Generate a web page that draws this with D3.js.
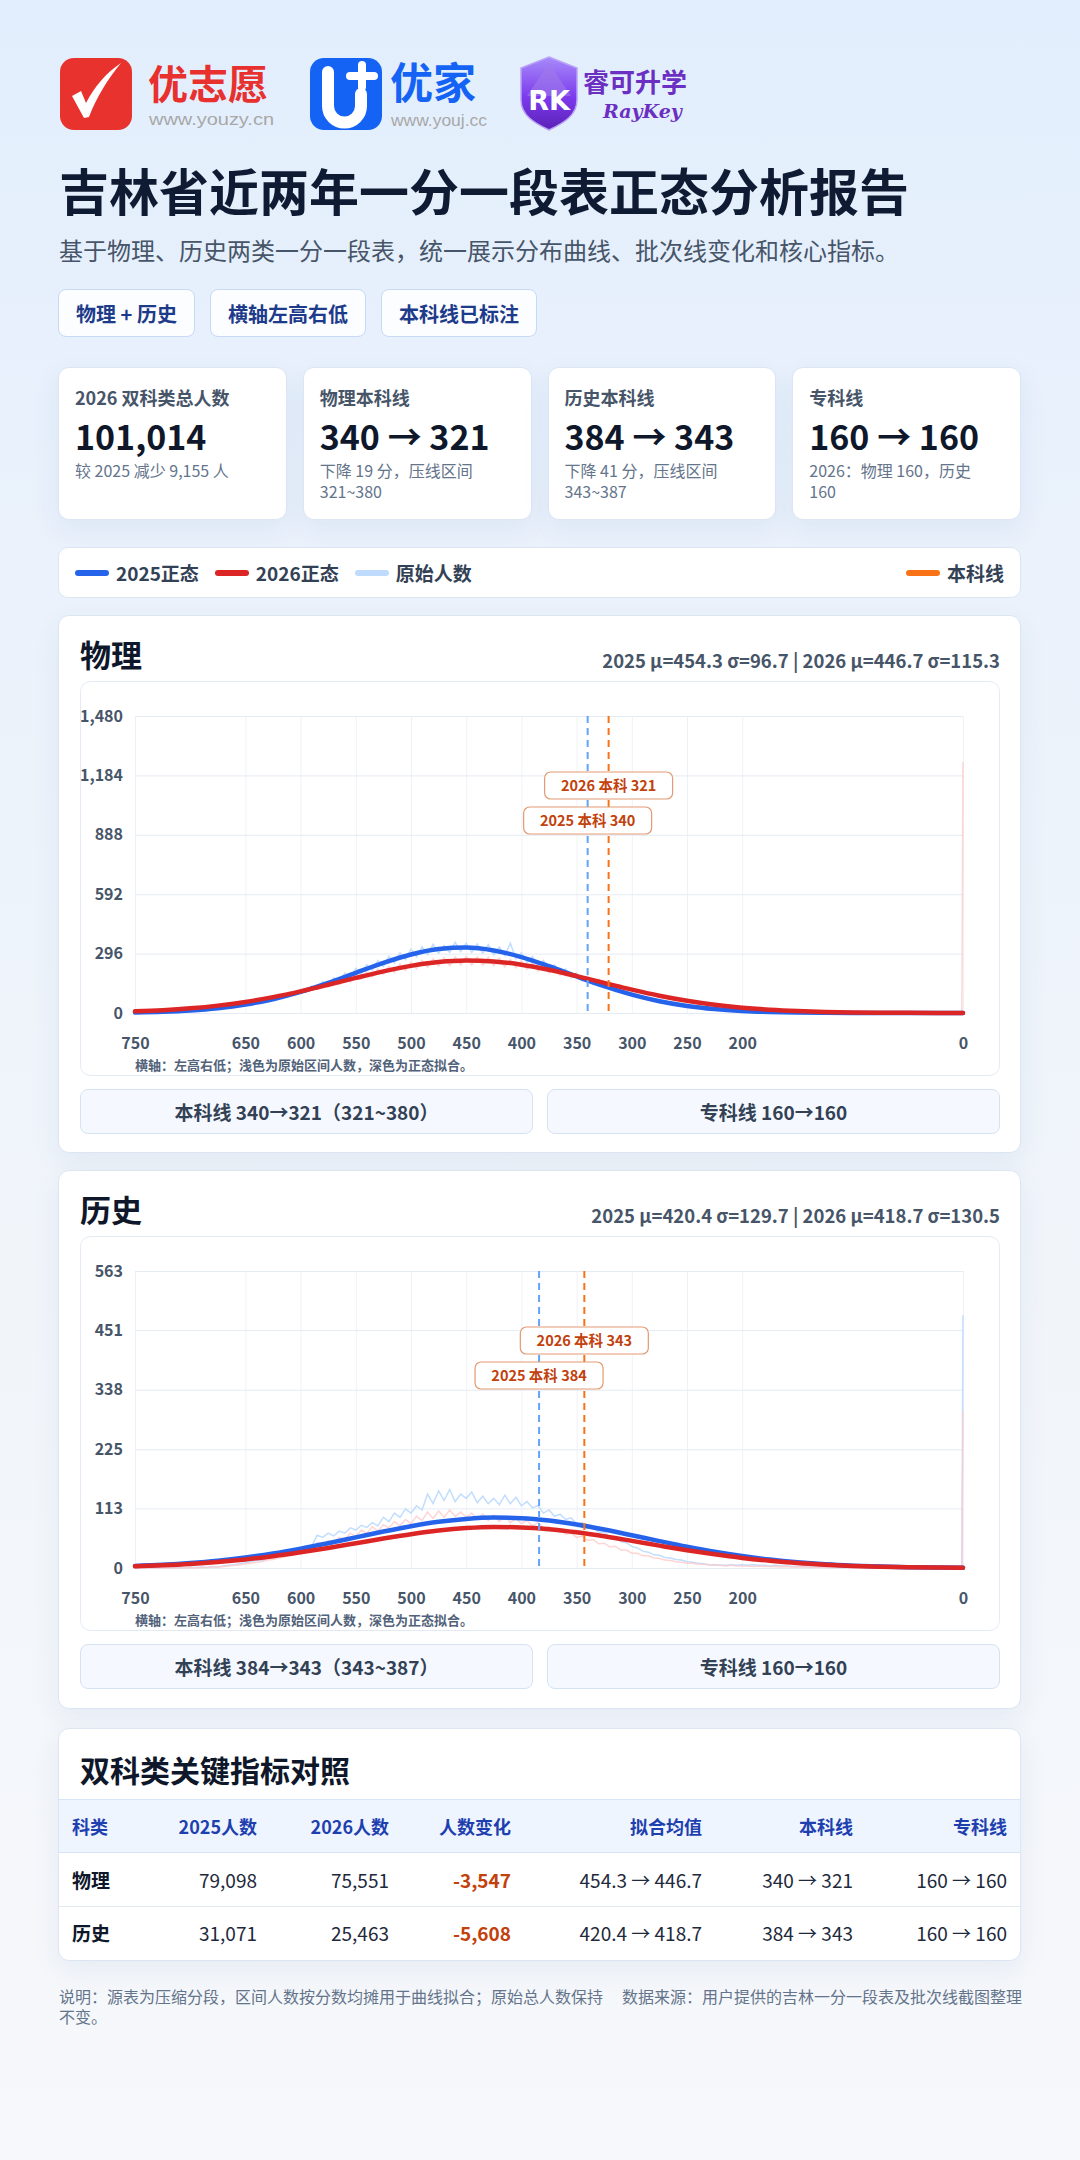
<!DOCTYPE html>
<html><head><meta charset="utf-8">
<script src="https://cdn.jsdelivr.net/npm/d3@7"></script>
<style>
*{box-sizing:border-box}
body{margin:0;width:1080px;height:2160px;overflow:hidden;font-family:"Noto Sans CJK SC","Noto Sans",sans-serif;color:#0f172a;
 background:linear-gradient(180deg,#e2eefd 0%,#ebf2fb 28%,#f1f5fa 60%,#f6f8fb 100%)}
#page{position:relative;width:1080px;height:2160px}
.abs{position:absolute}
svg text{font-family:"Noto Sans CJK SC","Noto Sans",sans-serif}
svg text.url{font-family:"Liberation Sans",Arial,sans-serif}
.title{left:59px;top:159px;font-size:50px;font-weight:700;line-height:60px;color:#0f1b33;white-space:nowrap}
.sub{left:59px;top:235px;font-size:24px;line-height:30px;color:#475569;white-space:nowrap}
.tags{left:58px;top:289px;display:flex;gap:15px}
.tag{height:48px;padding:0 17px;border:1px solid #c6daf5;border-radius:8px;background:#fbfdff;display:flex;align-items:center;font-size:20px;font-weight:700;color:#1e3a8a;white-space:nowrap}
.card{background:#fff;border:1px solid #dce6f3;border-radius:11px;box-shadow:0 10px 28px rgba(40,80,150,.07)}
.stats{left:58px;top:367px;width:963px;height:153px;display:grid;grid-template-columns:repeat(4,1fr);gap:16px}
.stat{position:relative;padding:17px 16px 0 16px}
.stat .lb{font-size:18px;font-weight:700;line-height:24px;color:#475569;white-space:nowrap}
.stat .num{font-size:34px;font-weight:700;line-height:40px;margin-top:7px;color:#0f172a;white-space:nowrap}
.stat .ds{font-size:16px;line-height:21px;margin-top:4px;color:#64748b;white-space:nowrap}
.legend{left:58px;top:547px;width:963px;height:51px;display:flex;align-items:center;padding:0 16px;box-shadow:none;border-radius:10px}
.li{display:flex;align-items:center;margin-right:16px;font-size:19px;font-weight:700;color:#334155;white-space:nowrap}
.sw{width:34px;height:6px;border-radius:3px;margin-right:7px}
.ctitle{font-size:31px;font-weight:700;line-height:36px;color:#0f172a;white-space:nowrap}
.cstats{font-size:18.5px;font-weight:700;line-height:24px;color:#475569;white-space:nowrap}
.btn{height:45px;border:1px solid #d5e2f2;border-radius:8px;background:#f5f9ff;display:flex;align-items:center;justify-content:center;font-size:19px;font-weight:700;color:#334155;white-space:nowrap}
.tcard{left:58px;top:1728px;width:963px;height:233px;overflow:hidden}
.cell{position:absolute;font-size:19px;line-height:24px;white-space:nowrap;color:#1e293b}
.foot{font-size:16px;line-height:20px;color:#64748b;white-space:nowrap}
</style></head>
<body><div id="page">

<svg class="abs" style="left:0;top:0" width="720" height="150">
 <defs>
  <linearGradient id="shg" x1="0" y1="0" x2="0" y2="1">
   <stop offset="0" stop-color="#a78bfa"/><stop offset="0.55" stop-color="#7c3aed"/><stop offset="1" stop-color="#5b21b6"/>
  </linearGradient>
 </defs>
 <rect x="60" y="58" width="72" height="72" rx="14" fill="#e8322e"/>
 <path d="M72,96 L81,91 L86,103 C95,86 106,73 121,63 C108,79 97,96 89,117 L84,118 Z" fill="#fff"/>
 <text x="148" y="99" font-size="40" font-weight="700" fill="#e8302f">优志愿</text>
 <text class="url" x="149" y="125" font-size="16" fill="#a8a8a8" textLength="125" lengthAdjust="spacingAndGlyphs">www.youzy.cn</text>
 <rect x="310" y="58" width="72" height="72" rx="14" fill="#1463f5"/>
 <path d="M328,72 V106 A16.5,16.5 0 0 0 361,106 V94" stroke="#fff" stroke-width="12" fill="none" stroke-linecap="round"/>
 <path d="M362,65 V87 M350,76 H374" stroke="#fff" stroke-width="8" stroke-linecap="round"/>
 <text x="390" y="99" font-size="43" font-weight="700" fill="#1463f5">优家</text>
 <text class="url" x="391" y="126" font-size="16" fill="#a8a8a8" textLength="96" lengthAdjust="spacingAndGlyphs">www.youj.cc</text>
 <path d="M549,57 L577,68 V100 C577,115 564,123 549,130 C534,123 521,115 521,100 V68 Z" fill="url(#shg)" stroke="#b9a3f7" stroke-width="1.5"/>
 <path d="M549,63 L571,96 H527 Z" fill="#9f7aea" opacity="0.6"/>
 <text x="549" y="110" font-size="27" font-weight="700" fill="#fff" text-anchor="middle" style="font-family:'DejaVu Sans',sans-serif">RK</text>
 <text x="583" y="92" font-size="26" font-weight="700" fill="#6b2fc2">睿可升学</text>
 <text x="603" y="117.5" font-size="19" font-weight="700" font-style="italic" fill="#6b2fc2" style="font-family:'DejaVu Serif',serif">RayKey</text>
</svg>

<div class="abs title">吉林省近两年一分一段表正态分析报告</div>
<div class="abs sub">基于物理、历史两类一分一段表，统一展示分布曲线、批次线变化和核心指标。</div>
<div class="abs tags" id="tags"></div>
<div class="abs stats" id="stats"></div>
<div class="abs card legend" id="legend"></div>
<div class="abs card" id="cardPhy" style="left:58px;top:615px;width:963px;height:538px"></div>
<div class="abs card" id="cardHis" style="left:58px;top:1170px;width:963px;height:539px"></div>
<div class="abs card tcard" id="tcard"></div>
<div class="abs foot" style="left:59px;top:1986px">说明：源表为压缩分段，区间人数按分数均摊用于曲线拟合；原始总人数保持<br>不变。</div>
<div class="abs foot" style="left:622px;top:1986px">数据来源：用户提供的吉林一分一段表及批次线截图整理</div>
</div>

<script>
// ---------- data ----------
const tagTexts = ["物理 + 历史", "横轴左高右低", "本科线已标注"];
const subjects = ["物理", "历史"];
const count2025 = [79098, 31071];
const count2026 = [75551, 25463];
const mean2025 = [454.3, 420.4];
const mean2026 = [446.7, 418.7];
const sd2025 = [96.7, 129.7];
const sd2026 = [115.3, 130.5];
const benke2025 = [340, 384];
const benke2026 = [321, 343];
const benkeBand = ["321~380", "343~387"];
const zhuanke2025 = [160, 160];
const zhuanke2026 = [160, 160];

const xTicks = [750, 650, 600, 550, 500, 450, 400, 350, 300, 250, 200, 0];
const yTicksPhy = [0, 296, 592, 888, 1184, 1480];
const yTicksHis = [0, 113, 225, 338, 451, 563];
const yMaxPhy = 1480, yMaxHis = 563;

// raw scores: 750,745,...,5 then 1,0
const rawScores = d3.range(750, 0, -5).concat([1, 0]);
// fitted curve sample scores: 750,725,...,0
const fitScores = d3.range(750, -1, -25);

const rawPhy2025 = [
 2,4,3,6,5,7,8,7,11,10,
 14,13,18,17,23,22,29,28,37,35,
 47,43,56,51,70,64,84,76,99,90,
 117,104,134,121,157,139,176,156,199,176,
 222,196,241,214,262,232,282,250,300,266,
 318,280,330,290,342,298,336,302,352,306,
 348,302,344,298,340,290,328,286,348,270,
 300,252,282,236,262,218,240,198,220,178,
 198,160,176,142,156,124,136,107,117,92,
 99,78,83,65,69,54,57,44,46,36,
 36,30,29,24,23,19,18,15,14,11,
 11,9,8,7,6,5,4,4,3,3,
 2,2,2,1,1,1,1,1,1,0,
 1,0,0,0,0,0,0,0,0,0,
 0,0,0,0,0,0,0,0,0,0,
 0,0];
const rawPhy2026 = [
 7,10,9,12,12,15,14,19,18,22,
 22,27,26,33,32,39,38,47,45,56,
 60,56,70,64,81,73,92,83,104,94,
 118,106,131,117,146,130,160,142,176,155,
 190,168,204,180,218,192,232,202,244,212,
 254,220,262,228,270,234,276,236,280,240,
 282,240,280,238,278,236,274,230,266,226,
 260,218,248,208,238,198,226,187,212,176,
 198,164,184,151,169,138,154,126,140,114,
 126,102,112,91,99,80,87,70,76,61,
 59,60,51,51,43,42,37,36,31,30,
 25,25,21,21,17,17,14,14,11,11,
 9,9,7,7,6,5,5,4,4,3,
 3,2,2,2,2,1,1,1,1,1,
 1,1,0,0,0,0,0,0,0,0,
 0,1252];
const rawHis2025 = [
 0,0,0,0,0,0,0,0,1,0,
 1,1,2,1,3,2,4,5,6,8,
 10,12,15,14,19,21,24,27,30,33,
 36,38,41,62,58,66,61,70,66,76,
 72,81,77,86,80,96,88,104,96,112,
 104,118,110,140,122,146,128,149,126,140,
 132,144,124,136,122,132,120,138,122,134,
 118,126,114,118,104,110,98,102,92,95,
 84,86,76,77,68,68,59,58,50,48,
 41,38,32,30,25,24,20,19,16,15,
 12,11,9,8,6,6,5,5,6,5,
 6,5,6,5,5,4,5,4,4,3,
 3,3,2,2,2,2,1,1,1,1,
 1,1,1,1,0,0,0,0,0,0,
 0,0,0,0,0,0,0,0,0,0,
 0,479];
const rawHis2026 = [
 0,0,0,0,0,0,0,0,0,0,
 1,0,1,1,2,2,3,4,5,6,
 8,9,11,12,15,16,19,21,24,26,
 29,31,33,48,44,52,48,58,54,66,
 60,72,66,78,70,82,76,88,80,92,
 84,98,90,106,94,108,96,110,98,106,
 96,104,92,102,90,100,88,98,86,94,
 84,90,80,86,76,78,70,72,64,66,
 58,60,52,54,46,47,40,41,34,34,
 28,28,23,23,19,18,15,14,12,11,
 9,9,7,7,6,5,5,4,5,4,
 4,4,3,4,3,3,3,2,3,2,
 2,2,2,1,2,1,1,1,1,1,
 1,0,1,0,0,0,0,0,0,0,
 0,0,0,0,0,0,0,0,0,0,
 0,297];

const fitPhy2025 = [3.0,6.5,12.9,24.1,42.1,68.7,104.9,149.7,200.0,249.8,291.8,318.9,326.0,311.6,278.7,233.1,182.4,133.5,91.3,58.5,35.0,19.6,10.3,5.0,2.3,0.9,0.4,0.1,0,0,0];
const fitPhy2026 = [8.2,14.2,23.4,36.8,55.3,79.1,108.0,140.7,175.0,207.6,234.9,253.6,261.3,256.8,240.8,215.4,183.9,149.8,116.4,86.3,61.0,41.1,26.5,16.3,9.5,5.3,2.8,1.4,0.7,0.3,0.1];
const fitHis2025 = [3.8,6.1,9.4,13.9,20.0,27.5,36.7,47.0,58.0,69.1,79.2,87.5,93.1,95.5,94.4,89.9,82.5,72.9,62.1,51.0,40.3,30.7,22.6,16.0,10.9,7.1,4.5,2.8,1.6,0.9,0.5];
const fitHis2026 = [3.1,5.0,7.6,11.3,16.2,22.3,29.7,38.0,46.9,55.8,64.1,70.9,75.6,77.7,77.0,73.6,67.7,60.1,51.4,42.4,33.7,25.9,19.1,13.6,9.3,6.2,3.9,2.4,1.4,0.8,0.5];

// ---------- helpers ----------
const loc = d3.formatLocale({decimal:".", thousands:",", grouping:[3], currency:["",""], minus:"-"});
const fmt = loc.format(",");
const FONT = '"Noto Sans CJK SC","Noto Sans",sans-serif';
const C = {b25:"#2563eb", r26:"#dc2626", rawB:"#bfdbfe", rawR:"#fecaca", l25:"#60a5fa", l26:"#f97316"};

// tags
d3.select("#tags").selectAll("div").data(tagTexts).join("div").attr("class","tag").text(d=>d);

// stats
const tot25 = d3.sum(count2025), tot26 = d3.sum(count2026);
const statData = [
 {lb:"2026 双科类总人数", num:fmt(tot26), ds:["较 2025 减少 " + fmt(tot25 - tot26) + " 人"]},
 {lb:"物理本科线", num:benke2025[0] + " → " + benke2026[0], ds:["下降 " + (benke2025[0]-benke2026[0]) + " 分，压线区间", benkeBand[0]]},
 {lb:"历史本科线", num:benke2025[1] + " → " + benke2026[1], ds:["下降 " + (benke2025[1]-benke2026[1]) + " 分，压线区间", benkeBand[1]]},
 {lb:"专科线", num:zhuanke2025[0] + " → " + zhuanke2026[0], ds:["2026：物理 " + zhuanke2026[0] + "，历史", String(zhuanke2026[1])]}
];
const st = d3.select("#stats").selectAll("div").data(statData).join("div").attr("class","card stat");
st.append("div").attr("class","lb").text(d=>d.lb);
st.append("div").attr("class","num").text(d=>d.num);
st.append("div").attr("class","ds").html(d=>d.ds.join("<br>"));

// legend
const legItems = [["2025正态",C.b25],["2026正态",C.r26],["原始人数",C.rawB]];
const lg = d3.select("#legend");
legItems.forEach(([t,c])=>{
  const it = lg.append("div").attr("class","li");
  it.append("div").attr("class","sw").style("background",c);
  it.append("span").text(t);
});
const lr = lg.append("div").attr("class","li").style("margin-left","auto").style("margin-right","0");
lr.append("div").attr("class","sw").style("background",C.l26);
lr.append("span").text("本科线");

// ---------- charts ----------
function drawChart(cardSel, k, yMax, yTicks, raw25, raw26, fit25, fit26) {
  const card = d3.select(cardSel);
  card.append("div").attr("class","abs ctitle").style("left","21px").style("top","20px").text(subjects[k]);
  card.append("div").attr("class","abs cstats").style("right","20px").style("top","32px")
    .text(`2025 μ=${mean2025[k]} σ=${sd2025[k]} | 2026 μ=${mean2026[k]} σ=${sd2026[k]}`);
  const W = 920, H = 395, L = 55, R = 883, T = 35, B = 332;
  const svg = card.append("svg").attr("class","abs").style("left","21px").style("top","65px").attr("width",W).attr("height",H);
  svg.append("rect").attr("x",.5).attr("y",.5).attr("width",W-1).attr("height",H-1).attr("rx",10)
    .attr("fill","#fff").attr("stroke","#e3eaf4");
  const x = d3.scaleLinear().domain([750,0]).range([L,R]);
  const y = d3.scaleLinear().domain([0,yMax]).range([B,T]);

  const gx = svg.append("g").attr("transform",`translate(0,${B})`)
    .call(d3.axisBottom(x).tickValues(xTicks).tickSize(-(B-T)).tickFormat(""));
  gx.select(".domain").remove(); gx.selectAll("line").attr("stroke","#eef2f8");
  const gy = svg.append("g").attr("transform",`translate(${L},0)`)
    .call(d3.axisLeft(y).tickValues(yTicks).tickSize(-(R-L)).tickFormat(""));
  gy.select(".domain").remove(); gy.selectAll("line").attr("stroke","#e5ebf4");

  const ly = svg.append("g").attr("class","tl").attr("transform",`translate(${L},0)`)
    .call(d3.axisLeft(y).tickValues(yTicks).tickSize(0).tickPadding(12).tickFormat(fmt));
  ly.select(".domain").remove();
  const lx = svg.append("g").attr("class","tl").attr("transform",`translate(0,${B})`)
    .call(d3.axisBottom(x).tickValues(xTicks).tickSize(0).tickPadding(25).tickFormat(d=>String(d)));
  lx.select(".domain").remove();
  svg.selectAll(".tl text").attr("font-size",16).attr("font-weight",700).attr("fill","#475569").style("font-family",FONT);

  const rl = d3.line().x((d,i)=>x(rawScores[i])).y(d=>y(d));
  svg.append("path").datum(raw25).attr("d",rl).attr("fill","none").attr("stroke",C.rawB).attr("stroke-width",1.5).attr("opacity",0.95);
  svg.append("path").datum(raw26).attr("d",rl).attr("fill","none").attr("stroke",C.rawR).attr("stroke-width",1.5).attr("opacity",0.8);

  const fl = d3.line().x((d,i)=>x(fitScores[i])).y(d=>y(d)).curve(d3.curveMonotoneX);
  svg.append("path").datum(fit25).attr("d",fl).attr("fill","none").attr("stroke",C.b25).attr("stroke-width",4.5).attr("stroke-linecap","round");
  svg.append("path").datum(fit26).attr("d",fl).attr("fill","none").attr("stroke",C.r26).attr("stroke-width",4.5).attr("stroke-linecap","round");

  const marks = [
    {v:benke2025[k], c:C.l25, t:`2025 本科 ${benke2025[k]}`, dy:91},
    {v:benke2026[k], c:C.l26, t:`2026 本科 ${benke2026[k]}`, dy:56}
  ];
  marks.forEach(m=>{
    svg.append("line").attr("x1",x(m.v)).attr("x2",x(m.v)).attr("y1",T).attr("y2",B)
      .attr("stroke",m.c).attr("stroke-width",2).attr("stroke-dasharray","7 5");
  });
  marks.slice().reverse().forEach(m=>{
    const g = svg.append("g").attr("transform",`translate(${x(m.v)},${T+m.dy})`);
    g.append("rect").attr("x",-64).attr("y",0).attr("width",128).attr("height",27).attr("rx",6)
      .attr("fill","rgba(255,255,255,0.93)").attr("stroke","#e39a74").attr("stroke-width",1.2);
    g.append("text").attr("x",0).attr("y",19).attr("text-anchor","middle").attr("font-size",14.5)
      .attr("font-weight",700).attr("fill","#c2410c").text(m.t);
  });

  svg.append("text").attr("x",L).attr("y",389).attr("font-size",13).attr("font-weight",700).attr("fill","#52627a")
    .text("横轴：左高右低；浅色为原始区间人数，深色为正态拟合。");

  card.append("div").attr("class","abs btn").style("left","21px").style("top","473px").style("width","453px")
    .text(`本科线 ${benke2025[k]}→${benke2026[k]}（${benkeBand[k]}）`);
  card.append("div").attr("class","abs btn").style("left","488px").style("top","473px").style("width","453px")
    .text(`专科线 ${zhuanke2025[k]}→${zhuanke2026[k]}`);
}
drawChart("#cardPhy", 0, yMaxPhy, yTicksPhy, rawPhy2025, rawPhy2026, fitPhy2025, fitPhy2026);
drawChart("#cardHis", 1, yMaxHis, yTicksHis, rawHis2025, rawHis2026, fitHis2025, fitHis2026);

// ---------- table ----------
const tc = d3.select("#tcard");
tc.append("div").attr("class","abs ctitle").style("left","21px").style("top","22px").style("font-size","30px").text("双科类关键指标对照");
tc.append("div").attr("class","abs").style("left","0").style("top","70px").style("width","961px").style("height","54px")
  .style("background","#eef5ff").style("border-top","1px solid #d8e5f6").style("border-bottom","1px solid #d8e5f6");
tc.append("div").attr("class","abs").style("left","0").style("top","177px").style("width","961px").style("height","1px").style("background","#e3e9f1");
const heads = ["科类","2025人数","2026人数","人数变化","拟合均值","本科线","专科线"];
const colRight = [null, 198, 330, 452, 643, 794, 948];
heads.forEach((h,i)=>{
  const d = tc.append("div").attr("class","cell").style("top","85px").style("font-size","18px").style("font-weight","700").style("color","#1e40af").text(h);
  if (i===0) d.style("left","13px"); else d.style("right",(961-colRight[i])+"px");
});
subjects.forEach((s,r)=>{
  const top = 124 + r*53 + 15;
  const vals = [s, fmt(count2025[r]), fmt(count2026[r]), fmt(count2026[r]-count2025[r]),
    `${mean2025[r]} → ${mean2026[r]}`, `${benke2025[r]} → ${benke2026[r]}`, `${zhuanke2025[r]} → ${zhuanke2026[r]}`];
  vals.forEach((v,i)=>{
    const d = tc.append("div").attr("class","cell").style("top",top+"px").text(v);
    if (i===0) d.style("left","13px").style("font-weight","700").style("color","#0f172a");
    else d.style("right",(961-colRight[i])+"px");
    if (i===3) d.style("font-weight","700").style("color","#c2410c");
  });
});
</script>
</body></html>
